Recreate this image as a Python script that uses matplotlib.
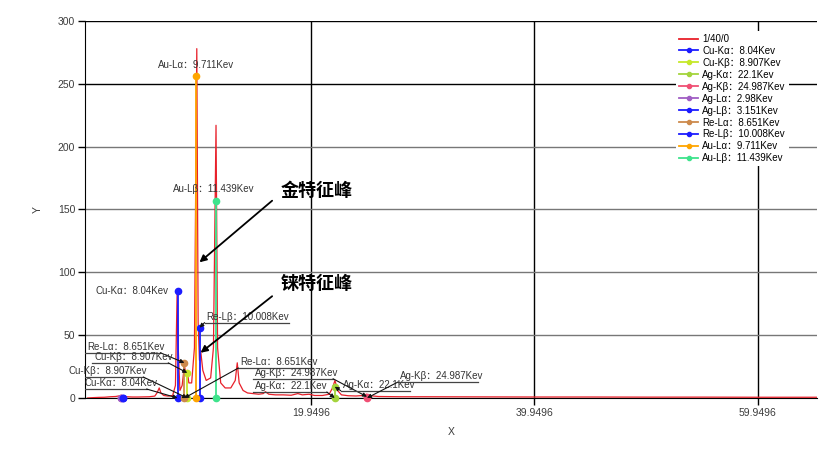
import matplotlib
matplotlib.use('Agg')
import matplotlib.pyplot as plt
from matplotlib.lines import Line2D
from matplotlib.transforms import IdentityTransform

plt.rcParams['font.family'] = ['Liberation Sans', 'Noto Sans CJK SC', 'DejaVu Sans']

# measured spectrum (keV, counts)
spec_x = [0.0, 0.5, 1.0, 1.5, 2.0, 2.5, 2.9, 3.0, 3.2, 3.5, 4.0, 4.5, 5.0, 5.5, 6.0,
          6.2, 6.4, 6.55, 6.8, 7.2, 7.6, 7.85, 8.0, 8.1, 8.25, 8.45, 8.65, 8.8, 8.9,
          9.05, 9.3, 9.55, 9.76, 9.88, 10.0, 10.1, 10.3, 10.6, 11.0, 11.25, 11.48,
          11.62, 11.9, 12.3, 12.8, 13.2, 13.38, 13.55, 13.9, 14.3, 14.8, 15.3, 15.7,
          15.9, 16.2, 16.8, 17.5, 18.2, 18.8, 19.2, 19.8, 20.3, 21.0, 21.6, 21.9,
          22.12, 22.35, 22.7, 23.3, 24.0, 24.6, 24.95, 25.3, 26.0, 28.0, 30.0, 35.0,
          40.0, 45.0, 50.0, 55.0, 60.0, 65.2]
spec_y = [0.0, 0.3, 0.5, 0.6, 1.0, 1.2, 1.8, 2.2, 1.5, 1.0, 0.8, 0.8, 0.9, 1.0, 1.5,
          4.0, 8.0, 4.0, 2.0, 1.5, 2.0, 10.0, 84.0, 40.0, 6.0, 10.0, 26.0, 18.0, 22.0,
          12.0, 12.0, 40.0, 278.0, 60.0, 30.0, 38.0, 22.0, 14.0, 16.0, 40.0, 217.0,
          40.0, 12.0, 8.0, 8.0, 14.0, 28.0, 12.0, 6.0, 4.0, 3.5, 3.0, 3.5,
          5.0, 3.0, 2.5, 2.5, 2.2, 3.5, 2.5, 3.0, 2.0, 2.0, 3.0, 8.0,
          14.0, 6.0, 2.5, 1.8, 1.6, 2.0, 3.0, 1.8, 1.2, 1.0, 1.0, 0.9,
          0.8, 0.8, 0.7, 0.7, 0.6, 0.6]
spec_label = '1/40/0'

# characteristic lines
elem_names = ['Cu-Kα', 'Cu-Kβ', 'Ag-Kα', 'Ag-Kβ', 'Ag-Lα', 'Ag-Lβ',
              'Re-Lα', 'Re-Lβ', 'Au-Lα', 'Au-Lβ']
elem_kev = [8.04, 8.907, 22.1, 24.987, 2.98, 3.151, 8.651, 10.008, 9.711, 11.439]
elem_top = [85, 20, 9, 1, 0, 0, 28, 56, 256, 157]
elem_colors = ['#1c1cff', '#c6e82a', '#a4d43c', '#f04f74', '#a05ec4', '#1c1cff',
               '#cd8a4c', '#1c1cff', '#ffa500', '#3ee38c']

x_ticks = [19.9496, 39.9496, 59.9496]
y_ticks = [0, 50, 100, 150, 200, 250, 300]

# callout labels: name, point (0 bottom / 1 top), underline x0, x1, y (pixels from point), leader side
callouts = [('Re-Lβ', 1, 5, 89, 5, 'L'),
            ('Re-Lα', 1, -99, -24, 10, 'R'),
            ('Cu-Kβ', 1, -95, -19, 10, 'R'),
            ('Cu-Kβ', 0, -121, -44, 21, 'R'),
            ('Cu-Kα', 0, -95, -31, 9, 'R'),
            ('Re-Lα', 0, 54, 129, 30, 'L'),
            ('Ag-Kβ', 1, -114, -34, 18, 'R'),
            ('Ag-Kα', 0, -82, -8, 6, 'R'),
            ('Ag-Kα', 1, 6, 75, -4, 'L'),
            ('Ag-Kβ', 0, 31, 111, 16, 'L')]
# plain labels: name, dx, dy, ha
plain_labels = [('Au-Lα', 0, 11, 'center'),
                ('Au-Lβ', -2, 12, 'center'),
                ('Cu-Kα', -9, 0, 'right')]


def label_text(name):
    return name + '：' + str(elem_kev[elem_names.index(name)]) + 'Kev'


fig = plt.figure(figsize=(8.4, 4.55), dpi=100)
ax = fig.add_axes([85 / 840, 57 / 455, 732 / 840, 377 / 455])

ax.plot(spec_x, spec_y, color='#e8202a', lw=0.9, label=spec_label, zorder=3)
for name, kev, top, col in zip(elem_names, elem_kev, elem_top, elem_colors):
    ax.plot([kev, kev], [0, top], color=col, lw=1.3, marker='o', markersize=4.5,
            label=label_text(name), zorder=4, clip_on=False)

ax.set_xlim(-0.24, 65.24)
ax.set_ylim(0, 300)
ax.set_xticks(x_ticks)
ax.set_xticklabels([str(t) for t in x_ticks])
ax.set_yticks(y_ticks)
ax.tick_params(direction='out', length=5, width=1, labelsize=7.5, labelcolor='#3c3c3c', pad=2)
for s in ['top', 'right']:
    ax.spines[s].set_visible(False)
ax.grid(True, color='#777777', lw=1)
for gl, v in zip(ax.yaxis.get_gridlines(), y_ticks):
    if v >= 250:
        gl.set_color('black')
for gl in ax.xaxis.get_gridlines():
    gl.set_color('black')
ax.set_axisbelow(True)
ax.set_xlabel('X', fontsize=7.5, color='#3c3c3c', labelpad=7)
ax.set_ylabel('Y', fontsize=7.5, color='#3c3c3c', labelpad=11)

leg = ax.legend(loc='upper left', bbox_to_anchor=(676 / 840, 1 - 31 / 455),
                bbox_transform=fig.transFigure, fontsize=7, frameon=True,
                facecolor='white', edgecolor='none', framealpha=1,
                labelspacing=0.2, handlelength=2.0, handletextpad=0.4,
                borderpad=0.3, borderaxespad=0)
for h in leg.legend_handles:
    h.set_markersize(3)
    h.set_linewidth(1.3)
leg.set_zorder(6)

fig.canvas.draw()

for name, dx, dy, ha in plain_labels:
    i = elem_names.index(name)
    ax.annotate(label_text(name), xy=(elem_kev[i], elem_top[i]), xytext=(dx, dy),
                textcoords='offset pixels', ha=ha, va='center', fontsize=7,
                color='#333333', zorder=5)

for name, pt, ux0, ux1, uy, side in callouts:
    i = elem_names.index(name)
    xy = (elem_kev[i], elem_top[i] if pt == 1 else 0)
    px, py = ax.transData.transform(xy)
    ax.add_line(Line2D([px + ux0, px + ux1], [py + uy, py + uy], color='#444444',
                       lw=0.9, transform=IdentityTransform(), zorder=5))
    lx = ux0 if side == 'L' else ux1
    ax.annotate('', xy=xy, xytext=(lx, uy), textcoords='offset pixels',
                arrowprops=dict(arrowstyle='-|>', color='#111111', lw=0.8,
                                mutation_scale=6, shrinkA=0, shrinkB=0), zorder=5)
    ax.annotate(label_text(name), xy=xy, xytext=(ux0 + 2, uy + 1),
                textcoords='offset pixels', ha='left', va='bottom', fontsize=7,
                color='#333333', zorder=5)

# Chinese notes with arrows
notes = [('金特征峰', (10.0, 108), (16.5, 157), (17.3, 165)),
         ('铼特征峰', (10.1, 36), (16.5, 81), (17.3, 91))]
for txt, tip, tail, pos in notes:
    ax.annotate('', xy=tip, xytext=tail,
                arrowprops=dict(arrowstyle='-|>', color='black', lw=1.3,
                                mutation_scale=10, shrinkA=0, shrinkB=0), zorder=7)
    ax.text(pos[0], pos[1], txt, fontsize=13, fontweight='bold',
            family=['Noto Sans CJK SC'], va='center', ha='left', zorder=7)

plt.savefig('out.png', dpi=100)
